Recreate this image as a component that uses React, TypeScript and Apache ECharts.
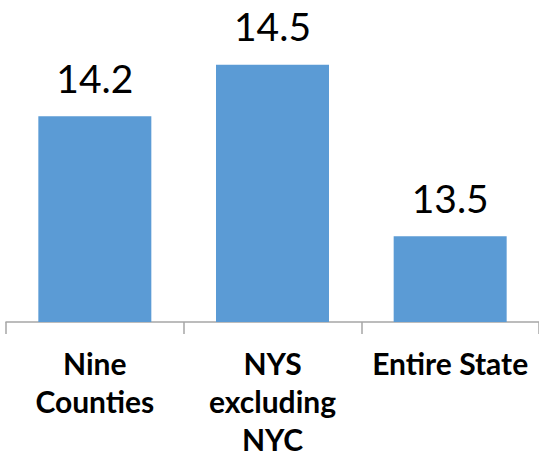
import React, { useEffect, useRef } from "react";
import * as echarts from "echarts";

const categories = ["Nine\nCounties", "NYS\nexcluding\nNYC", "Entire State"];
const values = [14.2, 14.5, 13.5];
const yMin = 13;
const yMax = 14.8;

const FONT = "Lato, sans-serif";

export default function App() {
  const ref = useRef<HTMLDivElement>(null);
  useEffect(() => {
    if (!ref.current) return;
    const chart = echarts.init(ref.current, null, { renderer: "svg" });
    chart.setOption({
      animation: false,
      backgroundColor: "#ffffff",
      grid: { left: 6, right: 0, top: 13.4, bottom: 135, containLabel: false },
      xAxis: {
        type: "category",
        data: categories,
        axisLine: { show: true, lineStyle: { color: "#A6A6A6", width: 1.5 } },
        axisTick: { show: true, length: 12, alignWithLabel: false, lineStyle: { color: "#A6A6A6", width: 1.5 } },
        axisLabel: {
          color: "#000000",
          fontFamily: FONT,
          fontWeight: "bold",
          fontSize: 30,
          lineHeight: 38,
          margin: 22,
          interval: 0,
        },
      },
      yAxis: {
        type: "value",
        min: yMin,
        max: yMax,
        show: false,
        splitLine: { show: false },
      },
      series: [
        {
          type: "bar",
          data: values,
          barWidth: "63.6%",
          itemStyle: { color: "#5B9BD5" },
          label: {
            show: true,
            position: "top",
            distance: 19,
            color: "#000000",
            fontFamily: FONT,
            fontSize: 39,
            formatter: (p: any) => p.value.toFixed(1),
          },
        },
      ],
    });
    return () => chart.dispose();
  }, []);
  return (
    <div
      ref={ref}
      style={{ position: "fixed", left: 0, top: 0, width: 539, height: 458 }}
    />
  );
}
